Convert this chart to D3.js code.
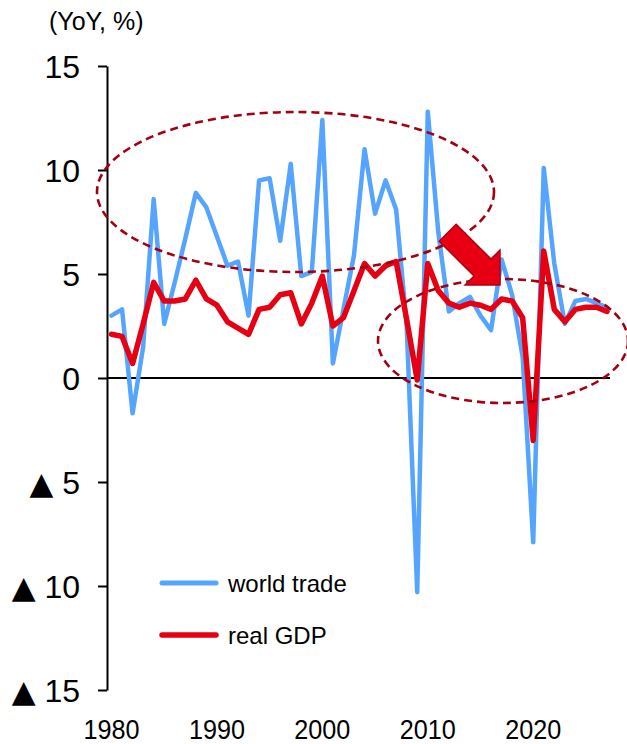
<!DOCTYPE html>
<html>
<head>
<meta charset="utf-8">
<script src="https://cdn.jsdelivr.net/npm/d3@7"></script>
<style>
  html, body { margin: 0; padding: 0; background: #fff; }
  svg { display: block; font-family: "Liberation Sans", Arial, sans-serif; }
</style>
</head>
<body>
<svg id="chart" width="627" height="744"></svg>
<script>
// ---- data ----
const years = d3.range(1980, 2028);
const worldTrade = [
  3.0, 3.3, -1.7, 1.5, 8.6, 2.6, 4.6, 6.7, 8.9, 8.2,
  6.8, 5.4, 5.6, 3.0, 9.5, 9.6, 6.6, 10.3, 4.9, 5.1,
  12.4, 0.7, 3.3, 5.9, 11.0, 7.9, 9.5, 8.1, 2.5, -10.3,
  12.8, 7.0, 3.2, 3.6, 3.9, 3.0, 2.3, 5.7, 4.0, 1.0,
  -7.9, 10.1, 5.5, 2.6, 3.7, 3.8, 3.6, 3.4
];
const realGDP = [
  2.1, 2.0, 0.7, 2.6, 4.6, 3.7, 3.7, 3.8, 4.7, 3.8,
  3.5, 2.7, 2.4, 2.1, 3.3, 3.4, 4.0, 4.1, 2.6, 3.6,
  4.9, 2.5, 2.9, 4.2, 5.5, 4.9, 5.4, 5.6, 2.8, -0.1,
  5.5, 4.2, 3.6, 3.4, 3.6, 3.5, 3.3, 3.8, 3.7, 2.9,
  -3.0, 6.1, 3.3, 2.7, 3.3, 3.4, 3.4, 3.2
];
const yTicks = [15, 10, 5, 0, -5, -10, -15];
const xTickYears = [1980, 1990, 2000, 2010, 2020];
const seriesNames = ["world trade", "real GDP"];
const unitLabel = "(YoY, %)";

// ---- setup ----
const svg = d3.select("#chart");
svg.append("rect").attr("width", 627).attr("height", 744).attr("fill", "#fff");

const x = d3.scaleLinear().domain([1980, 2027]).range([111.5, 607]);
const y = d3.scaleLinear().domain([-15, 15]).range([690, 66]);

const BLUE = "#55A5FF", RED = "#E60012", DARK = "#A30010";

// unit label
svg.append("text").attr("x", 49).attr("y", 30)
  .attr("font-size", 25).attr("fill", "#000").text(unitLabel);

// y axis
const yAxis = d3.axisLeft(y).tickValues(yTicks).tickSize(9).tickSizeOuter(0)
  .tickPadding(18)
  .tickFormat(d => d < 0 ? "\u25B2 " + (-d) : String(d));
const gy = svg.append("g").attr("transform", "translate(107,0)").call(yAxis);
gy.select(".domain").attr("stroke", "#000").attr("stroke-width", 2);
gy.selectAll(".tick line").attr("stroke", "#000").attr("stroke-width", 2);
gy.selectAll(".tick text").attr("font-size", 32).attr("fill", "#000")
  .attr("dy", "0.36em").attr("font-family", "'Liberation Sans', Arial, sans-serif")
  .each(function (d) {
    if (d < 0) {
      const t = d3.select(this).text(null);
      t.append("tspan").attr("font-size", 31).attr("font-family", "'DejaVu Sans', sans-serif").text("\u25B2");
      t.append("tspan").text("\u00A0" + (-d));
    }
  });

// zero line
svg.append("line").attr("x1", 107).attr("x2", 610)
  .attr("y1", y(0)).attr("y2", y(0)).attr("stroke", "#000").attr("stroke-width", 2);

// x labels
svg.append("g").selectAll("text").data(xTickYears).join("text")
  .attr("transform", d => `translate(${x(d)},739) scale(0.9,1)`)
  .attr("text-anchor", "middle").attr("font-size", 28).attr("fill", "#000")
  .text(d => d);

// lines
const line = vals => d3.line().x((d, i) => x(years[i])).y(d => y(d))(vals);
svg.append("path").attr("d", line(worldTrade)).attr("fill", "none")
  .attr("stroke", BLUE).attr("stroke-width", 4.5).attr("stroke-linejoin", "round").attr("stroke-linecap", "round");
svg.append("path").attr("d", line(realGDP)).attr("fill", "none")
  .attr("stroke", RED).attr("stroke-width", 5.5).attr("stroke-linejoin", "round").attr("stroke-linecap", "round");

// ellipses
svg.append("ellipse").attr("cx", 295.5).attr("cy", 192).attr("rx", 198.5).attr("ry", 80)
  .attr("fill", "none").attr("stroke", DARK).attr("stroke-width", 2.6).attr("stroke-dasharray", "8,5");
svg.append("ellipse").attr("cx", 503).attr("cy", 341).attr("rx", 125).attr("ry", 62)
  .attr("fill", "none").attr("stroke", DARK).attr("stroke-width", 2.6).attr("stroke-dasharray", "8,5");

// arrow
(function () {
  const T = [500, 285], u = [Math.SQRT1_2, Math.SQRT1_2], v = [Math.SQRT1_2, -Math.SQRT1_2];
  const P = (a, b) => [T[0] - a * u[0] + b * v[0], T[1] - a * u[1] + b * v[1]];
  const pts = [P(74, 12), P(24.7, 12), P(24.7, 24.7), P(0, 0), P(24.7, -24.7), P(24.7, -12), P(74, -12)];
  svg.append("path").attr("d", "M" + pts.map(p => p.join(",")).join("L") + "Z")
    .attr("fill", RED).attr("stroke", "#B0000F").attr("stroke-width", 1.5).attr("stroke-linejoin", "miter");
})();

// legend
const legend = svg.append("g");
[[BLUE, 583, 592, 5], [RED, 635, 644, 5.5]].forEach((c, i) => {
  legend.append("line").attr("x1", 162).attr("x2", 216).attr("y1", c[1]).attr("y2", c[1])
    .attr("stroke", c[0]).attr("stroke-width", c[3]).attr("stroke-linecap", "round");
  legend.append("text").attr("x", 228).attr("y", c[2]).attr("font-size", 24).attr("fill", "#000")
    .text(seriesNames[i]);
});
</script>
</body>
</html>
